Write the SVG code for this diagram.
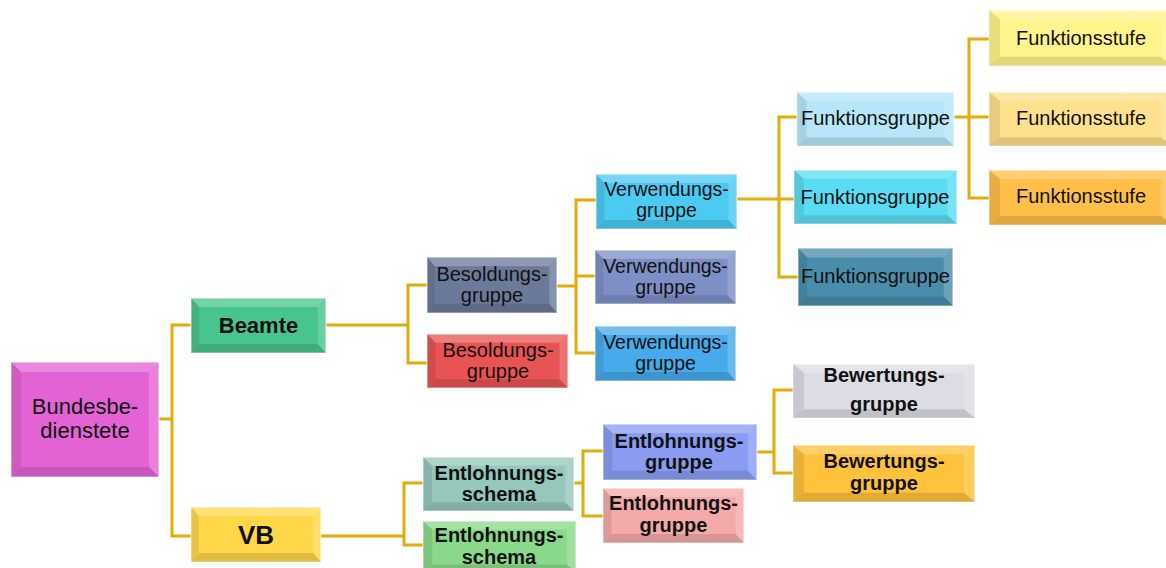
<svg xmlns="http://www.w3.org/2000/svg" xmlns:xlink="http://www.w3.org/1999/xlink" width="1166" height="568" viewBox="0 0 1166 568">
<style>
.box{stroke:#ffffff;stroke-opacity:0.55;stroke-width:1.5}
.t{font-family:"Liberation Sans",Arial,sans-serif;fill:#111;text-anchor:middle}
.n{font-size:20px}
.b{font-size:20px;font-weight:bold}
.conn{fill:none;stroke:#E2AC0A;stroke-width:3;stroke-linejoin:miter}
</style>
<defs>
<symbol id="bevel" viewBox="0 0 150 55" preserveAspectRatio="none">
<polygon points="0,0 150,0 141,9 9,9" fill="#fff" fill-opacity="0.24"/>
<polygon points="150,0 150,55 141,46 141,9" fill="#fff" fill-opacity="0.18"/>
<polygon points="0,55 150,55 141,46 9,46" fill="#000" fill-opacity="0.12"/>
<polygon points="0,0 9,9 9,46 0,55" fill="#000" fill-opacity="0.09"/>
</symbol>
<symbol id="bevelTall" viewBox="0 0 148 115" preserveAspectRatio="none">
<polygon points="0,0 148,0 138,10 10,10" fill="#fff" fill-opacity="0.24"/>
<polygon points="148,0 148,115 138,105 138,10" fill="#fff" fill-opacity="0.18"/>
<polygon points="0,115 148,115 138,105 10,105" fill="#000" fill-opacity="0.12"/>
<polygon points="0,0 10,10 10,105 0,115" fill="#000" fill-opacity="0.09"/>
</symbol>
</defs>
<rect width="1166" height="568" fill="#fff"/>
<g id="connectors">
<path class="conn" d="M159 419H172M191 325H172V536H191"/>
<path class="conn" d="M326 325H408M427 285H408V363H427"/>
<path class="conn" d="M557 286H576M596 200H576V353H595M576 276H595"/>
<path class="conn" d="M737 199H779M797 117H779V277H798M779 199H794"/>
<path class="conn" d="M954 117H969M989 39H969V198H989M969 117H989"/>
<path class="conn" d="M321 536H404M423 483H404V545H423"/>
<path class="conn" d="M574 483H583M603 451H583V516H603"/>
<path class="conn" d="M757 452H774M793 390H774V473H793"/>
</g>
<g id="n-bund"><rect class="box" x="11" y="362" width="148" height="115" fill="#E463D4"/><use xlink:href="#bevelTall" x="11" y="362" width="148" height="115"/><text class="t" x="85" y="414" font-size="22">Bundesbe-</text><text class="t" x="85" y="438" font-size="22">dienstete</text></g>
<g id="n-beamte"><rect class="box" x="191" y="298" width="135" height="55" fill="#48C58C"/><use xlink:href="#bevel" x="191" y="298" width="135" height="55"/><text class="t" x="258.5" y="333" font-size="22" font-weight="bold">Beamte</text></g>
<g id="n-vb"><rect class="box" x="191" y="507" width="130" height="55" fill="#FFD84A"/><use xlink:href="#bevel" x="191" y="507" width="130" height="55"/><text class="t" x="256" y="544" font-size="26" font-weight="bold">VB</text></g>
<g id="n-bes1"><rect class="box" x="427" y="257" width="130" height="56" fill="#6B7A9A"/><use xlink:href="#bevel" x="427" y="257" width="130" height="56"/><text class="t n" x="492" y="281">Besoldungs-</text><text class="t n" x="492" y="302">gruppe</text></g>
<g id="n-bes2"><rect class="box" x="427" y="334" width="141" height="54" fill="#E85454"/><use xlink:href="#bevel" x="427" y="334" width="141" height="54"/><text class="t n" x="498" y="357">Besoldungs-</text><text class="t n" x="498" y="378">gruppe</text></g>
<g id="n-verw1"><rect class="box" x="596" y="174" width="141" height="55" fill="#4BCBF2"/><use xlink:href="#bevel" x="596" y="174" width="141" height="55"/><text class="t" x="666.5" y="196" font-size="19.5">Verwendungs-</text><text class="t" x="666.5" y="217" font-size="19.5">gruppe</text></g>
<g id="n-verw2"><rect class="box" x="595" y="250" width="141" height="54" fill="#7D8FC6"/><use xlink:href="#bevel" x="595" y="250" width="141" height="54"/><text class="t" x="665.5" y="273" font-size="19.5">Verwendungs-</text><text class="t" x="665.5" y="294" font-size="19.5">gruppe</text></g>
<g id="n-verw3"><rect class="box" x="595" y="326" width="141" height="55" fill="#47AAEA"/><use xlink:href="#bevel" x="595" y="326" width="141" height="55"/><text class="t" x="665.5" y="349" font-size="19.5">Verwendungs-</text><text class="t" x="665.5" y="370" font-size="19.5">gruppe</text></g>
<g id="n-fg1"><rect class="box" x="797" y="92" width="157" height="54" fill="#B6E6F8"/><use xlink:href="#bevel" x="797" y="92" width="157" height="54"/><text class="t n" x="875.5" y="125">Funktionsgruppe</text></g>
<g id="n-fg2"><rect class="box" x="794" y="170" width="163" height="54" fill="#5ADDF2"/><use xlink:href="#bevel" x="794" y="170" width="163" height="54"/><text class="t n" x="875" y="204">Funktionsgruppe</text></g>
<g id="n-fg3"><rect class="box" x="798" y="248" width="155" height="58" fill="#4A8DAA"/><use xlink:href="#bevel" x="798" y="248" width="155" height="58"/><text class="t n" x="875.5" y="283">Funktionsgruppe</text></g>
<g id="n-fs1"><rect class="box" x="989" y="10" width="183" height="56" fill="#FFF58C"/><use xlink:href="#bevel" x="989" y="10" width="183" height="56"/><text class="t n" x="1081" y="45">Funktionsstufe</text></g>
<g id="n-fs2"><rect class="box" x="989" y="92" width="183" height="54" fill="#FFE08C"/><use xlink:href="#bevel" x="989" y="92" width="183" height="54"/><text class="t n" x="1081" y="125">Funktionsstufe</text></g>
<g id="n-fs3"><rect class="box" x="989" y="170" width="183" height="55" fill="#FFBF48"/><use xlink:href="#bevel" x="989" y="170" width="183" height="55"/><text class="t n" x="1081" y="203">Funktionsstufe</text></g>
<g id="n-bew1"><rect class="box" x="793" y="364" width="182" height="54" fill="#DCDCE4"/><use xlink:href="#bevel" x="793" y="364" width="182" height="54"/><text class="t b" x="884" y="382">Bewertungs-</text><text class="t b" x="884" y="411">gruppe</text></g>
<g id="n-bew2"><rect class="box" x="793" y="445" width="182" height="57" fill="#FFC23C"/><use xlink:href="#bevel" x="793" y="445" width="182" height="57"/><text class="t b" x="884" y="468">Bewertungs-</text><text class="t b" x="884" y="490">gruppe</text></g>
<g id="n-es1"><rect class="box" x="423" y="457" width="151" height="54" fill="#95C7BC"/><use xlink:href="#bevel" x="423" y="457" width="151" height="54"/><text class="t b" x="499" y="480">Entlohnungs-</text><text class="t b" x="499" y="501">schema</text></g>
<g id="n-es2"><rect class="box" x="423" y="521" width="153" height="52" fill="#8AD98A"/><use xlink:href="#bevel" x="423" y="521" width="153" height="52"/><text class="t b" x="499" y="542">Entlohnungs-</text><text class="t b" x="499" y="564">schema</text></g>
<g id="n-eg1"><rect class="box" x="603" y="424" width="154" height="56" fill="#8A9CF2"/><use xlink:href="#bevel" x="603" y="424" width="154" height="56"/><text class="t b" x="679" y="448">Entlohnungs-</text><text class="t b" x="679" y="469">gruppe</text></g>
<g id="n-eg2"><rect class="box" x="603" y="488" width="141" height="55" fill="#F5AAAA"/><use xlink:href="#bevel" x="603" y="488" width="141" height="55"/><text class="t b" x="673.5" y="510">Entlohnungs-</text><text class="t b" x="673.5" y="532">gruppe</text></g>
</svg>
